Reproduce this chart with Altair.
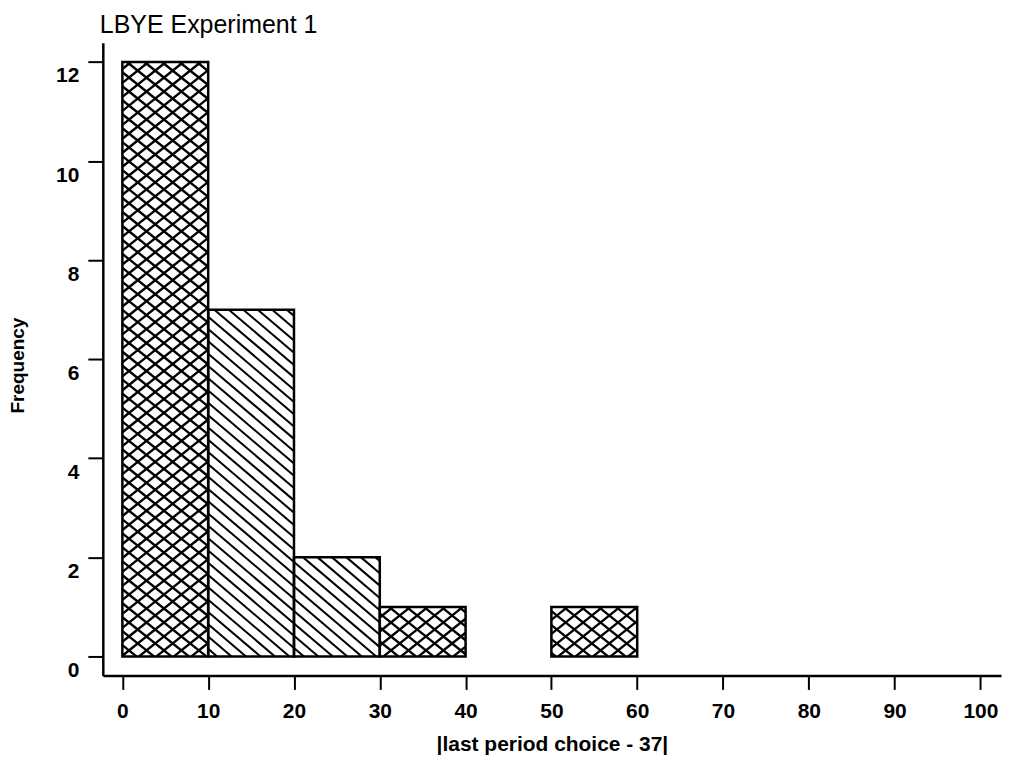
import math
import altair as alt
import pandas as pd

# ---- data ----
bin_start = [0, 10, 20, 30, 50]
bin_end = [10, 20, 30, 40, 60]
counts = [12, 7, 2, 1, 1]
patterns = ["cross", "diag", "diag", "cross", "cross"]

x_ticks = [0, 10, 20, 30, 40, 50, 60, 70, 80, 90, 100]
y_ticks = [0, 2, 4, 6, 8, 10, 12]

title_text = "LBYE Experiment 1"
x_title = "|last period choice - 37|"
y_title = "Frequency"

# ---- layout ----
X_DOMAIN = [-2.28, 102.4]
Y_DOMAIN = [-0.383, 12.39]
W, H = 900, 634
FONT = "Liberation Sans"

bars = pd.DataFrame({
    "x0": bin_start, "x1": bin_end, "y0": [0] * len(counts), "y1": counts,
    "pattern": patterns,
})


def to_px(x, y):
    px = (x - X_DOMAIN[0]) / (X_DOMAIN[1] - X_DOMAIN[0]) * W
    py = H - (y - Y_DOMAIN[0]) / (Y_DOMAIN[1] - Y_DOMAIN[0]) * H
    return px, py


def to_data(px, py):
    x = X_DOMAIN[0] + px / W * (X_DOMAIN[1] - X_DOMAIN[0])
    y = Y_DOMAIN[0] + (H - py) / H * (Y_DOMAIN[1] - Y_DOMAIN[0])
    return x, y


# hatch segments derived from the bar rectangles
segs = []
for r in bars.itertuples():
    left, bottom = to_px(r.x0, r.y0)
    right, top = to_px(r.x1, r.y1)
    if r.pattern == "cross":
        fams = [(0.8, 17.5, 2.4), (-0.8, 17.5, 2.4)]
    else:
        fams = [(0.85, 14.5, 2.0)]
    for s, dx, sw in fams:
        step = abs(s) * dx
        cs = [yy - s * xx for xx in (left, right) for yy in (top, bottom)]
        k0 = math.ceil(min(cs) / step)
        k1 = math.floor(max(cs) / step)
        for k in range(k0, k1 + 1):
            c = k * step
            xa = (top - c) / s
            xb = (bottom - c) / s
            lo = max(left, min(xa, xb))
            hi = min(right, max(xa, xb))
            if hi - lo < 0.5:
                continue
            ax, ay = to_data(lo, s * lo + c)
            bx, by = to_data(hi, s * hi + c)
            segs.append({"xa": ax, "ya": ay, "xb": bx, "yb": by, "sw": sw})
hatch = pd.DataFrame(segs)

xscale = alt.Scale(domain=X_DOMAIN, nice=False, zero=False)
yscale = alt.Scale(domain=Y_DOMAIN, nice=False, zero=False)

x_axis = alt.Axis(
    values=x_ticks, title=x_title, grid=False,
    domainColor="black", domainWidth=2.5,
    tickColor="black", tickWidth=2, tickSize=14,
    labelFont=FONT, labelFontSize=21, labelFontWeight="bold", labelColor="black",
    labelPadding=11, labelFlush=False, labelOverlap=False,
    titleFont=FONT, titleFontSize=21, titleFontWeight="bold", titleColor="black",
    titleY=69, titleBaseline="middle",
)
y_axis = alt.Axis(
    values=y_ticks, title=y_title, grid=False,
    domainColor="black", domainWidth=2.5,
    tickColor="black", tickWidth=2, tickSize=15,
    labelFont=FONT, labelFontSize=21, labelFontWeight="bold", labelColor="black",
    labelPadding=9, labelBaseline="top", labelOffset=3, labelFlush=False,
    labelOverlap=False,
    titleFont=FONT, titleFontSize=19, titleFontWeight="bold", titleColor="black",
    titleX=-85, titleY=323, titleBaseline="middle", titleAlign="center",
    titleAngle=270,
)

fill_layer = alt.Chart(bars).mark_rect(fill="white", strokeWidth=0).encode(
    x=alt.X("x0:Q", scale=xscale, axis=x_axis),
    x2="x1:Q",
    y=alt.Y("y0:Q", scale=yscale, axis=y_axis),
    y2="y1:Q",
)

hatch_layer = alt.Chart(hatch).mark_rule(color="black", strokeCap="butt").encode(
    x=alt.X("xa:Q", scale=xscale),
    x2="xb:Q",
    y=alt.Y("ya:Q", scale=yscale),
    y2="yb:Q",
    strokeWidth=alt.StrokeWidth("sw:Q", scale=None, legend=None),
)

outline_layer = alt.Chart(bars).mark_rect(
    fillOpacity=0, stroke="black", strokeWidth=2.5
).encode(
    x=alt.X("x0:Q", scale=xscale),
    x2="x1:Q",
    y=alt.Y("y0:Q", scale=yscale),
    y2="y1:Q",
)

chart = alt.layer(fill_layer, hatch_layer, outline_layer).properties(
    width=W, height=H,
    title=alt.TitleParams(
        title_text, anchor="start", frame="group", font=FONT, fontSize=25,
        fontWeight="normal", color="black", offset=5, dx=-3,
    ),
    autosize=alt.AutoSizeParams(type="none"),
    padding={"left": 95, "top": 34, "right": 5, "bottom": 80},
    background="white",
).configure_view(stroke=None)

chart.save("out.html", embed_options={"renderer": "svg", "actions": False})
